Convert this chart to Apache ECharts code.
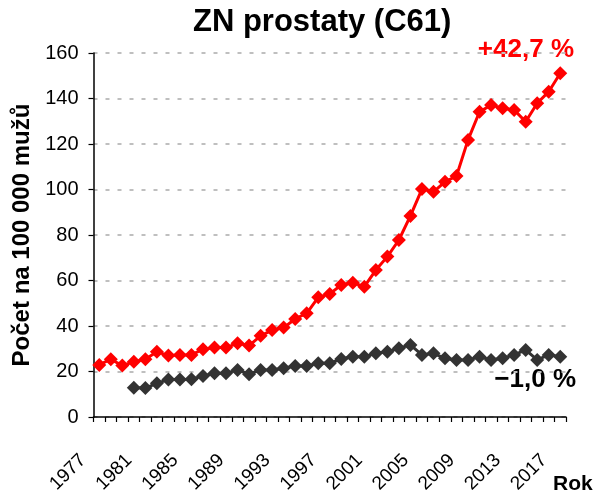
<!DOCTYPE html>
<html>
<head>
<meta charset="utf-8">
<script src="https://cdn.jsdelivr.net/npm/echarts@6/dist/echarts.min.js"></script>
<style>
html, body { margin: 0; padding: 0; background: #fff; }
#chart { width: 595px; height: 498px; }
</style>
</head>
<body>
<div id="chart"></div>
<script>
// roky 1977-2017
const years = ['1977', '1978', '1979', '1980', '1981', '1982', '1983', '1984', '1985', '1986',
  '1987', '1988', '1989', '1990', '1991', '1992', '1993', '1994', '1995', '1996',
  '1997', '1998', '1999', '2000', '2001', '2002', '2003', '2004', '2005', '2006',
  '2007', '2008', '2009', '2010', '2011', '2012', '2013', '2014', '2015', '2016', '2017']

// incidence (cervena)
const incidence = [22.9, 25.4, 22.6, 24.3, 25.4, 28.7, 27.0, 27.3, 27.3, 29.8,
  30.5, 30.5, 32.4, 31.4, 35.7, 38.2, 39.3, 43.1, 45.6, 52.6,
  54.1, 58.0, 59.0, 57.3, 64.6, 70.5, 77.8, 88.4, 100.2, 99.0,
  103.4, 105.9, 121.8, 134.2, 137.1, 135.7, 135.0, 129.8, 137.9, 143.0, 151.1]

// mortalita (seda), data od roku 1980
const mortality = [null, null, null, 12.9, 12.7, 14.8, 16.5, 16.5, 16.6, 18.0,
  19.2, 19.2, 20.7, 18.8, 20.7, 20.7, 21.4, 22.4, 22.4, 23.6,
  23.6, 25.5, 26.5, 26.5, 28.0, 28.7, 30.2, 31.7, 27.3, 28.0,
  25.8, 25.1, 25.1, 26.5, 25.1, 25.8, 27.3, 29.5, 25.1, 27.3, 26.5]

const incidenceChange = '+42,7 %'
const mortalityChange = '\u22121,0 %'

const font = '"Liberation Sans", Arial, sans-serif'
const chart = echarts.init(document.getElementById('chart'))

chart.setOption({
  animation: false,
  textStyle: { fontFamily: font },
  title: {
    text: 'ZN prostaty (C61)',
    left: 188,
    top: 2,
    textStyle: { fontSize: 31, fontWeight: 'bold', color: '#000', fontFamily: font }
  },
  grid: {
    left: 93.5,
    right: 29,
    top: 53,
    bottom: 81
  },
  xAxis: {
    type: 'category',
    data: years,
    boundaryGap: true,
    axisLine: { lineStyle: { color: '#000', width: 1.5 } },
    axisTick: { show: true, interval: 0, length: 5, lineStyle: { color: '#000', width: 1.2 } },
    axisLabel: {
      interval: 3,
      rotate: 45,
      fontSize: 19,
      color: '#000',
      margin: 24,
      formatter: function (value) {
        return '{y|' + value + '}{gap|}'
      },
      rich: {
        y: { fontSize: 19, color: '#000', fontFamily: font },
        gap: { width: 23 }
      }
    },
    splitLine: { show: false }
  },
  yAxis: {
    type: 'value',
    min: 0,
    max: 160,
    interval: 20,
    name: 'Počet na 100 000 mužů',
    nameLocation: 'middle',
    nameGap: 56,
    nameTextStyle: { fontSize: 24, fontWeight: 'bold', color: '#000' },
    axisLine: { show: true, lineStyle: { color: '#000', width: 1.5 } },
    axisTick: { show: true, length: 5, lineStyle: { color: '#000', width: 1.2 } },
    axisLabel: { fontSize: 20, color: '#000', margin: 15 },
    splitLine: {
      show: true,
      lineStyle: { color: '#BFBFBF', width: 2, type: [4, 8] }
    }
  },
  series: [
    {
      name: 'incidence',
      type: 'line',
      data: incidence,
      symbol: 'diamond',
      symbolSize: 14,
      showAllSymbol: true,
      itemStyle: { color: '#FF0000' },
      lineStyle: { color: '#FF0000', width: 3 },
      z: 3
    },
    {
      name: 'mortalita',
      type: 'line',
      data: mortality,
      symbol: 'diamond',
      symbolSize: 14,
      showAllSymbol: true,
      itemStyle: { color: '#333333' },
      lineStyle: { color: '#333333', width: 3 },
      z: 2
    }
  ],
  graphic: [
    {
      type: 'text',
      right: 21,
      top: 37,
      style: { text: incidenceChange, fill: '#FF0000', font: 'bold 26px ' + font }
    },
    {
      type: 'text',
      right: 19,
      top: 367,
      style: { text: mortalityChange, fill: '#000', font: 'bold 26px ' + font }
    },
    {
      type: 'text',
      left: 553,
      top: 474,
      style: { text: 'Rok', fill: '#000', font: 'bold 21px ' + font }
    }
  ]
})
</script>
</body>
</html>
